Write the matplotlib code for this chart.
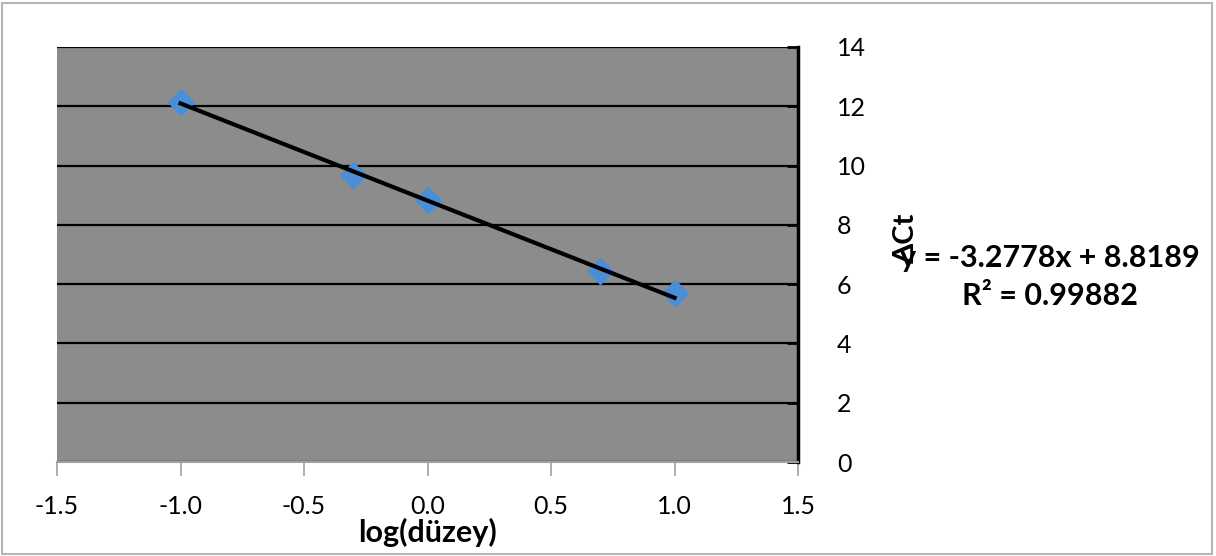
import matplotlib
matplotlib.use("Agg")
import matplotlib.pyplot as plt
from matplotlib.patches import Rectangle
import numpy as np

# Data
log_level = [-1.0, -0.301, 0.0, 0.699, 1.0]
delta_ct = [12.13, 9.69, 8.85, 6.46, 5.69]
slope = -3.2778
intercept = 8.8189
r2_text = "0.99882"
x_ticks = [-1.5, -1.0, -0.5, 0.0, 0.5, 1.0, 1.5]
y_ticks = [0, 2, 4, 6, 8, 10, 12, 14]

plt.rcParams['font.family'] = ['Lato', 'DejaVu Sans']

fig = plt.figure(figsize=(12.16, 5.56), dpi=100)
ax = fig.add_axes([57/1216, 94/556, 741/1216, 415/556])
ax.set_facecolor('#8c8c8c')

ax.set_xlim(-1.5, 1.5)
ax.set_ylim(0, 14)
ax.set_xticks(x_ticks)
ax.set_xticklabels([f"{v:.1f}" for v in x_ticks], fontsize=18)
ax.set_yticks(y_ticks)
ax.set_yticklabels([str(v) for v in y_ticks], fontsize=18)

ax.yaxis.tick_right()
ax.grid(axis='y', color='black', linewidth=1.6)
ax.set_axisbelow(True)

for s in ['left', 'top']:
    ax.spines[s].set_visible(False)
ax.spines['right'].set_color('black')
ax.spines['right'].set_linewidth(2.5)
ax.spines['bottom'].set_color('#a0a0a0')
ax.spines['bottom'].set_linewidth(1.5)

ax.tick_params(axis='x', direction='out', length=10, width=1.2, color='#a0a0a0', pad=14)
ax.tick_params(axis='y', direction='in', length=8, width=2, color='black', pad=28)

ax.plot(log_level, delta_ct, linestyle='none', marker='D', markersize=13,
        color='#4a8ed6', zorder=3)

xl = np.array([min(log_level), max(log_level)])
ax.plot(xl, slope * xl + intercept, color='black', linewidth=3, zorder=4)

ax.set_xlabel("log(düzey)", fontsize=22, fontweight='bold', labelpad=0)

fig.text(906/1216, 1 - 238/556, "ΔCt", rotation=90, fontsize=21, fontweight='bold',
         ha='center', va='center')
fig.text(1050/1216, 1 - 258/556, f"y = {slope}x + {intercept}", fontsize=22,
         fontweight='bold', ha='center', va='center')
fig.text(1050/1216, 1 - 296/556, f"R² = {r2_text}", fontsize=22,
         fontweight='bold', ha='center', va='center')

fig.patches.append(Rectangle((2/1216, 2/556), 1210/1216, 551/556, transform=fig.transFigure,
                             fill=False, edgecolor='#b5b5b5', linewidth=1.5))

fig.savefig("out.png", dpi=100)
